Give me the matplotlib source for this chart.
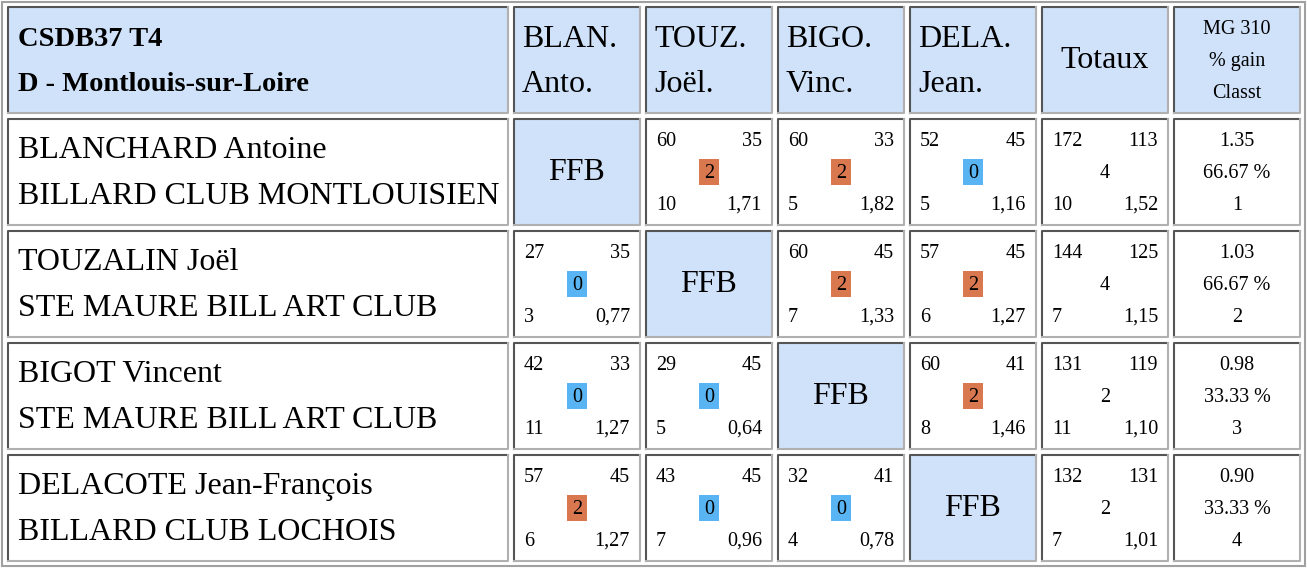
import matplotlib.pyplot as plt
from matplotlib.patches import Rectangle

title = ["CSDB37 T4", "D - Montlouis-sur-Loire"]
col_heads = [("BLAN.", "Anto."), ("TOUZ.", "Joël."), ("BIGO.", "Vinc."), ("DELA.", "Jean.")]
players = ["BLANCHARD Antoine", "TOUZALIN Joël", "BIGOT Vincent", "DELACOTE Jean-François"]
clubs = ["BILLARD CLUB MONTLOUISIEN", "STE MAURE BILL ART CLUB",
         "STE MAURE BILL ART CLUB", "BILLARD CLUB LOCHOIS"]
# (points, opponent points, match pts, innings, average) per match
matches = [
    [None, (60, 35, 2, 10, "1,71"), (60, 33, 2, 5, "1,82"), (52, 45, 0, 5, "1,16")],
    [(27, 35, 0, 3, "0,77"), None, (60, 45, 2, 7, "1,33"), (57, 45, 2, 6, "1,27")],
    [(42, 33, 0, 11, "1,27"), (29, 45, 0, 5, "0,64"), None, (60, 41, 2, 8, "1,46")],
    [(57, 45, 2, 6, "1,27"), (43, 45, 0, 7, "0,96"), (32, 41, 0, 4, "0,78"), None],
]
totals = [(172, 113, 4, 10, "1,52"), (144, 125, 4, 7, "1,15"),
          (131, 119, 2, 11, "1,10"), (132, 131, 2, 7, "1,01")]
mg = ["1.35", "1.03", "0.98", "0.90"]
gain = ["66.67 %", "66.67 %", "33.33 %", "33.33 %"]
rank = ["1", "2", "3", "4"]

HEAD_BG = "#cfe2fa"
ORANGE = "#d9774f"
BLUE = "#58b4f2"
BIG = 23
SMALL = 14.5
plt.rcParams["font.family"] = "Liberation Serif"

fig = plt.figure(figsize=(13.07, 5.69), dpi=100)
ax = fig.add_axes([0, 0, 1, 1])
ax.set_xlim(0, 1307)
ax.set_ylim(569, 0)
ax.axis("off")

cols = [(8, 508), (514, 640), (646, 772), (778, 904), (910, 1036), (1042, 1168), (1174, 1300)]
rows = [(7, 113), (119, 225), (231, 337), (343, 449), (455, 561)]

ax.add_patch(Rectangle((2, 2), 1303, 564, fill=False, ec="#a0a0a0", lw=1.5))


def cell(c, r, bg="white"):
    x0, x1 = cols[c]
    y0, y1 = rows[r]
    ax.add_patch(Rectangle((x0, y0), x1 - x0, y1 - y0, fc=bg, ec="none"))
    ax.plot([x0, x0, x1], [y1, y0, y0], color="#555555", lw=1.5)
    ax.plot([x1, x1, x0], [y0, y1, y1], color="#b0b0b0", lw=1.5)
    return x0, x1, y0, y1


def match_cell(c, r, m):
    x0, x1, y0, y1 = cell(c, r)
    a, b, pts, inn, avg = m
    ax.text(x0 + 10, y0 + 22, str(a), fontsize=SMALL, va="center")
    ax.text(x1 - 10, y0 + 22, str(b), fontsize=SMALL, va="center", ha="right")
    ax.text(x0 + 10, y1 - 20, str(inn), fontsize=SMALL, va="center")
    ax.text(x1 - 10, y1 - 20, avg, fontsize=SMALL, va="center", ha="right")
    xc, yc = (x0 + x1) / 2, (y0 + y1) / 2
    if c <= 4:
        col = ORANGE if pts == 2 else BLUE
        ax.add_patch(Rectangle((xc - 10, yc - 13), 20, 26, fc=col, ec="none"))
    ax.text(xc, yc + 1, str(pts), fontsize=SMALL, va="center", ha="center")


# header
x0, x1, y0, y1 = cell(0, 0, HEAD_BG)
ax.text(x0 + 10, y0 + 32, title[0], fontsize=20.5, weight="bold", va="center")
ax.text(x0 + 10, y0 + 77, title[1], fontsize=20.5, weight="bold", va="center")
for j, (l1, l2) in enumerate(col_heads):
    x0, x1, y0, y1 = cell(j + 1, 0, HEAD_BG)
    ax.text(x0 + 8, y0 + 32, l1, fontsize=BIG, va="center")
    ax.text(x0 + 8, y0 + 77, l2, fontsize=BIG, va="center")
x0, x1, y0, y1 = cell(5, 0, HEAD_BG)
ax.text((x0 + x1) / 2, (y0 + y1) / 2, "Totaux", fontsize=BIG, va="center", ha="center")
x0, x1, y0, y1 = cell(6, 0, HEAD_BG)
for k, t in enumerate(["MG 310", "% gain", "Classt"]):
    ax.text((x0 + x1) / 2, y0 + 22 + 32 * k, t, fontsize=SMALL, va="center", ha="center")

for i in range(4):
    r = i + 1
    x0, x1, y0, y1 = cell(0, r)
    ax.text(x0 + 10, y0 + 31, players[i], fontsize=BIG, va="center")
    ax.text(x0 + 10, y0 + 77, clubs[i], fontsize=BIG, va="center")
    for j in range(4):
        if matches[i][j] is None:
            x0, x1, y0, y1 = cell(j + 1, r, HEAD_BG)
            ax.text((x0 + x1) / 2, (y0 + y1) / 2, "FFB", fontsize=BIG, va="center", ha="center")
        else:
            match_cell(j + 1, r, matches[i][j])
    match_cell(5, r, totals[i])
    x0, x1, y0, y1 = cell(6, r)
    for k, t in enumerate([mg[i], gain[i], rank[i]]):
        ax.text((x0 + x1) / 2, y0 + 22 + 32 * k, t, fontsize=SMALL, va="center", ha="center")

fig.savefig("out.png", dpi=100)
